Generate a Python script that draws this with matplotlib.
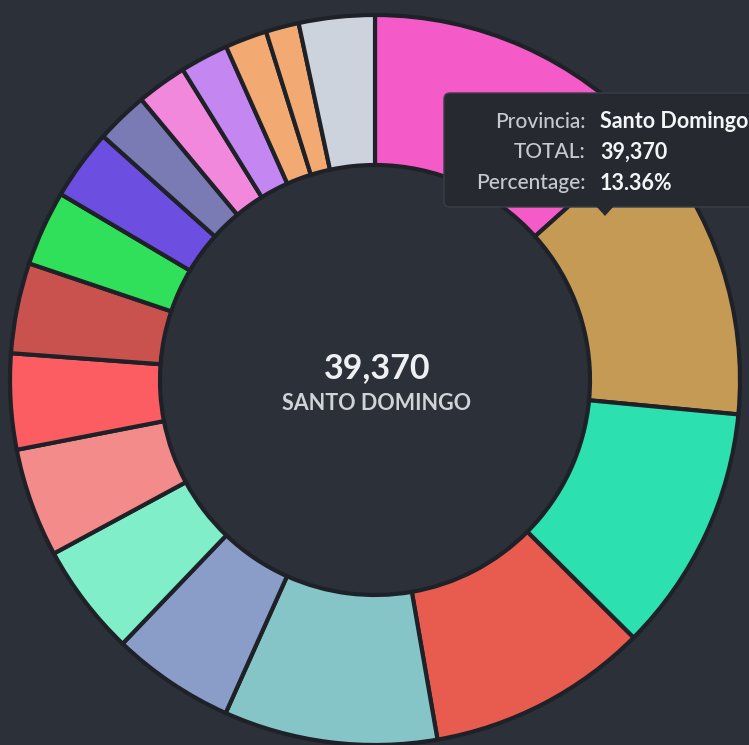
import matplotlib
matplotlib.use("Agg")
import matplotlib.pyplot as plt
from matplotlib.patches import FancyBboxPatch, Polygon

# -----------------------------
# Data (TOTAL per provincia, clockwise from 12 o'clock)
# -----------------------------
highlight_name = "Santo Domingo"
totals = [39370, 38730, 32330, 28840, 27840, 16040, 14630, 14210, 12470,
          11800, 9810, 9225, 6815, 6565, 6315, 5485, 4320, 9890]
colors = ["#f55bc8", "#c59a55", "#2de0b0", "#e85c50", "#85c5c8", "#8a9cc8",
          "#80eec8", "#f28b8a", "#fb5d62", "#c9524f", "#30e05a", "#6c4ee0",
          "#7a7ab5", "#f288dc", "#c486f0", "#f2aa72", "#f2aa72", "#cdd3dc"]

BG = "#2c3139"
FONT = ["Lato", "DejaVu Sans"]

grand_total = sum(totals)
pct = totals[0] / grand_total * 100

fig = plt.figure(figsize=(7.49, 7.45), dpi=100, facecolor=BG)
ax = fig.add_axes([0, 0, 1, 1])
ax.set_facecolor(BG)

ax.pie(totals, colors=colors, startangle=90, counterclock=False,
       center=(375, 365), radius=365,
       wedgeprops=dict(width=150, edgecolor="#1e2127", linewidth=3))

ax.set_xlim(0, 749)
ax.set_ylim(0, 745)
ax.set_aspect("equal")
ax.axis("off")

# center label
ax.text(377, 377, f"{totals[0]:,}", ha="center", va="center", color="#eef0f3",
        fontsize=24.5, fontweight="bold", family=FONT)
ax.text(377, 342, highlight_name.upper(), ha="center", va="center",
        color="#d0d4d9", fontsize=15.5, fontweight="bold", family=FONT)

# tooltip
tip = FancyBboxPatch((444, 538), 330, 114, boxstyle="round,pad=0,rounding_size=6",
                     facecolor="#262a30", edgecolor="#3a3f47", linewidth=1,
                     zorder=5)
ax.add_patch(tip)
ax.add_patch(Polygon([(596, 539), (614, 539), (605, 529)], closed=True,
                     facecolor="#262a30", edgecolor="none", zorder=6))

rows = [("Provincia:", highlight_name, 623),
        ("TOTAL:", f"{totals[0]:,}", 593),
        ("Percentage:", f"{pct:.2f}%", 562)]
for lab, val, y in rows:
    ax.text(586, y, lab, ha="right", va="center", color="#c6cad0",
            fontsize=15, fontweight="medium", family=FONT, zorder=7)
    ax.text(600, y, val, ha="left", va="center", color="#f4f5f7",
            fontsize=15.5, fontweight="bold", family=FONT, zorder=7)

fig.savefig("out.png", dpi=100, facecolor=BG)
